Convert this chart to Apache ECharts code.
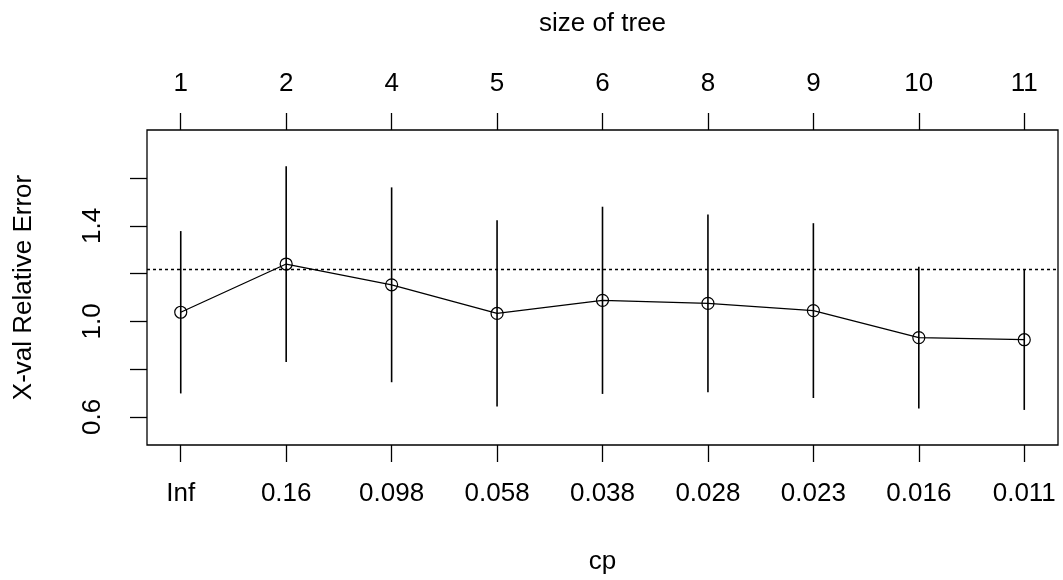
<!DOCTYPE html>
<html>
<head>
<meta charset="utf-8">
<script src="https://cdn.jsdelivr.net/npm/echarts@6/dist/echarts.min.js"></script>
<style>
html,body{margin:0;padding:0;background:#fff;}
#chart{width:1063px;height:580px;}
</style>
</head>
<body>
<div id="chart"></div>
<script>
// ---- data ----
const cpLabels = ['Inf', '0.16', '0.098', '0.058', '0.038', '0.028', '0.023', '0.016', '0.011'];
const sizeLabels = ['1', '2', '4', '5', '6', '8', '9', '10', '11'];
const xerror = [1.038, 1.240, 1.153, 1.033, 1.088, 1.075, 1.045, 0.932, 0.923];
const xstd   = [0.340, 0.410, 0.408, 0.390, 0.392, 0.372, 0.366, 0.297, 0.294];
const threshold = 1.222;
const yTicks = [0.6, 0.8, 1.0, 1.2, 1.4, 1.6];
const yTickLabels = [0.6, 1.0, 1.4];

// ---- derived ----
const positions = cpLabels.map((_, i) => i + 1);
const points = positions.map((p, i) => [p, xerror[i]]);
const bars = positions.map((p, i) => [p, xerror[i] - xstd[i], xerror[i] + xstd[i]]);

const FONT = '"Liberation Sans", Arial, sans-serif';
const FS = 26;

const chart = echarts.init(document.getElementById('chart'));
chart.setOption({
  animation: false,
  backgroundColor: '#fff',
  grid: {
    left: 147, top: 130, width: 911, height: 317,
    show: true, borderColor: '#000', borderWidth: 1.3, backgroundColor: 'transparent'
  },
  xAxis: [
    {
      type: 'value', position: 'bottom', min: 0.68, max: 9.32,
      name: 'cp', nameLocation: 'middle', nameGap: 104,
      nameTextStyle: { fontFamily: FONT, fontSize: FS, color: '#000' },
      axisLine: { show: false },
      splitLine: { show: false },
      axisTick: { show: true, length: 17, inside: false, customValues: positions,
                  lineStyle: { color: '#000', width: 1.3 } },
      axisLabel: { show: true, margin: 36, customValues: positions,
                   fontFamily: FONT, fontSize: FS, color: '#000',
                   formatter: v => cpLabels[Math.round(v) - 1] }
    },
    {
      type: 'value', position: 'top', min: 0.68, max: 9.32,
      name: 'size of tree', nameLocation: 'middle', nameGap: 93,
      nameTextStyle: { fontFamily: FONT, fontSize: FS, color: '#000' },
      axisLine: { show: false },
      splitLine: { show: false },
      axisTick: { show: true, length: 17, inside: false, customValues: positions,
                  lineStyle: { color: '#000', width: 1.3 } },
      axisLabel: { show: true, margin: 33, customValues: positions,
                   fontFamily: FONT, fontSize: FS, color: '#000',
                   formatter: v => sizeLabels[Math.round(v) - 1] }
    }
  ],
  yAxis: {
    type: 'value', min: 0.4821, max: 1.8013,
    name: 'X-val Relative Error', nameLocation: 'middle', nameGap: 110, nameRotate: 90,
    nameTextStyle: { fontFamily: FONT, fontSize: FS, color: '#000' },
    axisLine: { show: false },
    splitLine: { show: false },
    axisTick: { show: true, length: 17, inside: false, customValues: yTicks,
                lineStyle: { color: '#000', width: 1.3 } },
    axisLabel: { show: true, margin: 41, rotate: 90, customValues: yTickLabels,
                 fontFamily: FONT, fontSize: FS, color: '#000',
                 formatter: v => v.toFixed(1) }
  },
  series: [
    {
      type: 'custom',
      xAxisIndex: 0,
      data: bars,
      renderItem: function (params, api) {
        const x = api.value(0);
        const lo = api.coord([x, api.value(1)]);
        const hi = api.coord([x, api.value(2)]);
        return {
          type: 'line',
          shape: { x1: lo[0], y1: lo[1], x2: hi[0], y2: hi[1] },
          style: { stroke: '#000', lineWidth: 1.6 }
        };
      },
      z: 2
    },
    {
      type: 'line',
      xAxisIndex: 0,
      data: points,
      symbol: 'circle',
      symbolSize: 12,
      lineStyle: { color: '#000', width: 1.3 },
      itemStyle: { color: 'rgba(0,0,0,0)', borderColor: '#000', borderWidth: 1.2 },
      z: 3,
      markLine: {
        silent: true,
        symbol: 'none',
        label: { show: false },
        lineStyle: { color: '#000', type: [3, 3], width: 1.3 },
        data: [{ yAxis: threshold }]
      }
    }
  ]
});
</script>
</body>
</html>
